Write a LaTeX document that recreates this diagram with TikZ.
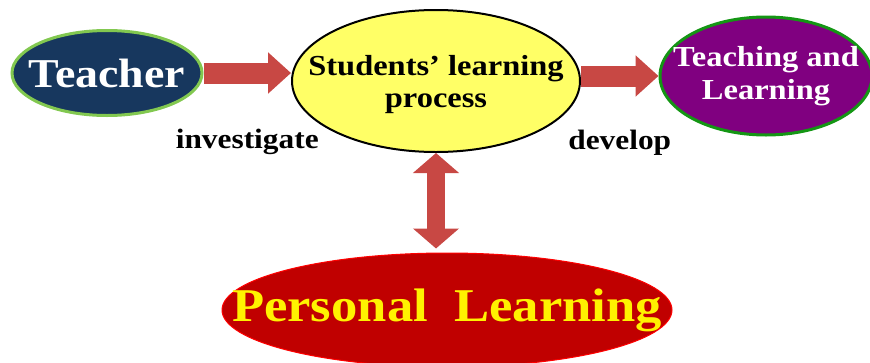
\documentclass[tikz,border=0pt]{standalone}
\usepackage{fontspec}
\setmainfont{Liberation Serif}[FakeStretch=1.12]
\usepackage{tikz}
\usetikzlibrary{shapes.geometric}
\usetikzlibrary{arrows.meta}
\definecolor{navy}{RGB}{23,55,94}
\definecolor{lgreen}{RGB}{130,200,80}
\definecolor{dgreen}{RGB}{20,150,20}
\definecolor{lyellow}{RGB}{255,255,102}
\definecolor{purp}{RGB}{128,0,128}
\definecolor{dred}{RGB}{192,0,0}
\definecolor{arrowred}{RGB}{200,72,68}

\begin{document}
\begin{tikzpicture}[x=1pt,y=-1pt,
		blob/.style={ellipse, inner sep=0pt},
		fat/.style={draw=arrowred, line width=21pt, -{Triangle[length=23pt,width=40pt]}},
		word/.style={font=\fontsize{28}{30}\selectfont\bfseries, text=black, inner sep=0pt}]
				\useasboundingbox (0,0) rectangle (870,362);
				\node[blob, draw=lgreen, line width=3pt, fill=navy, minimum width=190pt, minimum height=85pt,
					label={[font=\fontsize{41}{43}\selectfont\bfseries, text=white]center:Teacher}] (T) at (107,73) {};
				\node[blob, draw=black, line width=2pt, fill=lyellow, minimum width=288pt, minimum height=142pt,
					label={[font=\fontsize{29}{32}\selectfont\bfseries, align=center, yshift=-4pt]center:Students’ learning\\process}] (S) at (436,81) {};
				\node[blob, draw=dgreen, line width=3pt, fill=purp, minimum width=212pt, minimum height=118pt,
					label={[font=\fontsize{29}{33}\selectfont\bfseries, align=center, text=white]center:Teaching and\\Learning}] (L) at (766,76) {};
				\node[blob, draw=red, line width=1pt, fill=dred, minimum width=450pt, minimum height=114pt,
					label={[font=\fontsize{47}{49}\selectfont\bfseries, text=yellow]center:Personal\ \ Learning}] (P) at (447,310) {};
				
				\draw[fat]  (T.east) -- (T.east -| S.west) node[midway,below=46pt,word] {investigate};
				\draw[fat]  (L.west -| S.east) -- (L.west) node[midway,below=44pt,word] {develop};
				\draw[fat, line width=18pt, {Triangle[length=20pt,width=45pt]}-{Triangle[length=20pt,width=45pt]}, shorten >=4pt]  (S.south) -- (S.south |- P.north);
			\end{tikzpicture}
\end{document}
